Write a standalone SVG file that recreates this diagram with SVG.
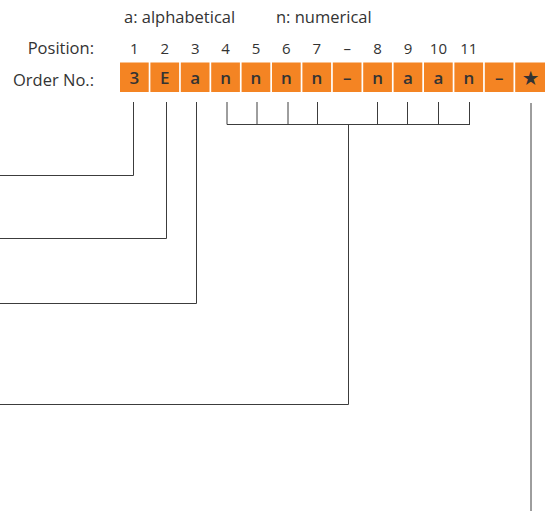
<svg xmlns="http://www.w3.org/2000/svg" width="550" height="511" viewBox="0 0 550 511">
<style>
.lbl{font-family:"Open Sans","Noto Sans",sans-serif;font-size:16.5px;fill:#333}
.pos{font-family:"Open Sans","Noto Sans",sans-serif;font-size:15px;fill:#333;text-anchor:middle}
.box rect{fill:#F48423}
.box text{font-family:"Open Sans","Noto Sans",sans-serif;font-size:17px;font-weight:600;fill:#333;text-anchor:middle}
.ln{fill:none;stroke:#3c3c3c;stroke-width:1}
</style>
<rect width="550" height="511" fill="#fff"/>
<g id="legend">
<text class="lbl" x="124" y="23">a: alphabetical</text>
<text class="lbl" x="276" y="23">n: numerical</text>
</g>
<g id="labels">
<text class="lbl" x="94" y="53.5" text-anchor="end">Position:</text>
<text class="lbl" x="94" y="85.5" text-anchor="end">Order No.:</text>
</g>
<g id="positions">
<text class="pos" x="134.4" y="53.5">1</text>
<text class="pos" x="164.8" y="53.5">2</text>
<text class="pos" x="195.2" y="53.5">3</text>
<text class="pos" x="225.6" y="53.5">4</text>
<text class="pos" x="256" y="53.5">5</text>
<text class="pos" x="286.4" y="53.5">6</text>
<text class="pos" x="316.8" y="53.5">7</text>
<text class="pos" x="347.2" y="53.5">–</text>
<text class="pos" x="377.6" y="53.5">8</text>
<text class="pos" x="408" y="53.5">9</text>
<text class="pos" x="438.4" y="53.5">10</text>
<text class="pos" x="468.8" y="53.5">11</text>
</g>
<g id="b1" class="box"><rect x="120" y="62.5" width="28.7" height="29.5"/><text x="134.4" y="84">3</text></g>
<g id="b2" class="box"><rect x="150.4" y="62.5" width="28.7" height="29.5"/><text x="164.8" y="84">E</text></g>
<g id="b3" class="box"><rect x="180.8" y="62.5" width="28.7" height="29.5"/><text x="195.2" y="84">a</text></g>
<g id="b4" class="box"><rect x="211.2" y="62.5" width="28.7" height="29.5"/><text x="225.6" y="84">n</text></g>
<g id="b5" class="box"><rect x="241.6" y="62.5" width="28.7" height="29.5"/><text x="256" y="84">n</text></g>
<g id="b6" class="box"><rect x="272" y="62.5" width="28.7" height="29.5"/><text x="286.4" y="84">n</text></g>
<g id="b7" class="box"><rect x="302.4" y="62.5" width="28.7" height="29.5"/><text x="316.8" y="84">n</text></g>
<g id="b8" class="box"><rect x="332.8" y="62.5" width="28.7" height="29.5"/><text x="347.2" y="84">–</text></g>
<g id="b9" class="box"><rect x="363.2" y="62.5" width="28.7" height="29.5"/><text x="377.6" y="84">n</text></g>
<g id="b10" class="box"><rect x="393.6" y="62.5" width="28.7" height="29.5"/><text x="408" y="84">a</text></g>
<g id="b11" class="box"><rect x="424" y="62.5" width="28.7" height="29.5"/><text x="438.4" y="84">a</text></g>
<g id="b12" class="box"><rect x="454.4" y="62.5" width="28.7" height="29.5"/><text x="468.8" y="84">n</text></g>
<g id="b13" class="box"><rect x="484.8" y="62.5" width="28.7" height="29.5"/><text x="499.2" y="84">–</text></g>
<g id="b14" class="box"><rect x="515.2" y="62.5" width="29.8" height="29.5"/><text x="530" y="84">★</text></g>
<g id="connectors">
<polyline class="ln" points="133.5,102 133.5,175.5 0,175.5"/>
<polyline class="ln" points="166.5,102 166.5,238.5 0,238.5"/>
<polyline class="ln" points="196.5,102 196.5,303.5 0,303.5"/>
<polyline class="ln" points="227,102 227,124.5 470,124.5"/>
<line class="ln" x1="257" y1="102" x2="257" y2="124.5"/>
<line class="ln" x1="288" y1="102" x2="288" y2="124.5"/>
<line class="ln" x1="317.5" y1="102" x2="317.5" y2="124.5"/>
<line class="ln" x1="377.5" y1="102" x2="377.5" y2="124.5"/>
<line class="ln" x1="407.5" y1="102" x2="407.5" y2="124.5"/>
<line class="ln" x1="438.5" y1="102" x2="438.5" y2="124.5"/>
<line class="ln" x1="469.5" y1="102" x2="469.5" y2="124.5"/>
<polyline class="ln" points="348.5,124.5 348.5,404.5 0,404.5"/>
<line class="ln" x1="531" y1="103" x2="531" y2="511"/>
</g>
</svg>
